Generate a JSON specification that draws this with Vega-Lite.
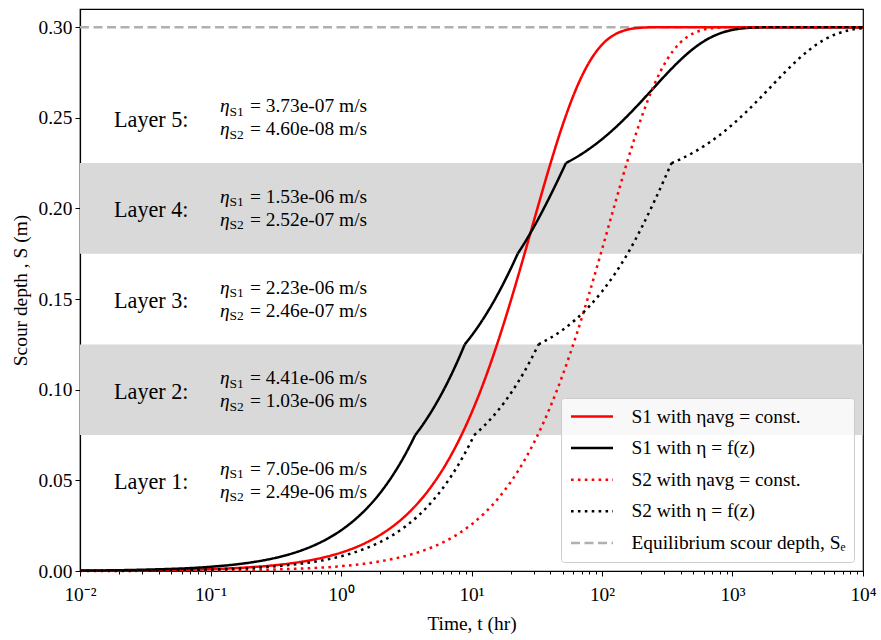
{
  "$schema": "https://vega.github.io/schema/vega-lite/v6.json",
  "width": 783,
  "height": 562,
  "autosize": {"type": "none"},
  "padding": {"left": 80, "top": 9, "right": 18, "bottom": 69},
  "config": {
    "font": "Liberation Serif",
    "view": {"stroke": "#000000", "strokeWidth": 1.2},
    "axis": {
      "labelFont": "Liberation Serif",
      "titleFont": "Liberation Serif",
      "labelFontSize": 19.4,
      "titleFontSize": 19.4,
      "titleFontWeight": "normal",
      "labelColor": "#000000",
      "titleColor": "#000000",
      "tickColor": "#000000",
      "domainColor": "#000000",
      "domainWidth": 1.2,
      "tickWidth": 1,
      "grid": false
    },
    "legend": {
      "orient": "bottom-right",
      "offset": 9,
      "fillColor": "rgba(255,255,255,0.8)",
      "strokeColor": "#cccccc",
      "cornerRadius": 3,
      "padding": 8.5,
      "symbolType": "stroke",
      "symbolSize": 1764,
      "symbolStrokeWidth": 2.5,
      "labelFont": "Liberation Serif",
      "labelFontSize": 19.4,
      "labelColor": "#000000",
      "labelOffset": 17,
      "labelLimit": 400,
      "clipHeight": 20,
      "rowPadding": 11.6
    }
  },
  "datasets": {
    "bands": [
      {"lo": 0.075, "hi": 0.125},
      {"lo": 0.175, "hi": 0.225}
    ],
    "ann": [
      {"layer": "Layer 5:", "Sc": 0.25, "e1": "= 3.73e-07 m/s", "e2": "= 4.60e-08 m/s"},
      {"layer": "Layer 4:", "Sc": 0.20, "e1": "= 1.53e-06 m/s", "e2": "= 2.52e-07 m/s"},
      {"layer": "Layer 3:", "Sc": 0.15, "e1": "= 2.23e-06 m/s", "e2": "= 2.46e-07 m/s"},
      {"layer": "Layer 2:", "Sc": 0.10, "e1": "= 4.41e-06 m/s", "e2": "= 1.03e-06 m/s"},
      {"layer": "Layer 1:", "Sc": 0.05, "e1": "= 7.05e-06 m/s", "e2": "= 2.49e-06 m/s"}
    ],
    "curves": [
      {"curve": "Se", "seg": 1, "t": 0.01, "S": 0.3},
      {"curve": "Se", "seg": 1, "t": 10000, "S": 0.3},

      {"curve": "S1c", "seg": 1, "t": 0.01, "S": 0.0001},
      {"curve": "S1c", "seg": 1, "t": 0.03162, "S": 0.00033},
      {"curve": "S1c", "seg": 1, "t": 0.1, "S": 0.00103},
      {"curve": "S1c", "seg": 1, "t": 0.1778, "S": 0.00183},
      {"curve": "S1c", "seg": 1, "t": 0.3162, "S": 0.00324},
      {"curve": "S1c", "seg": 1, "t": 0.3981, "S": 0.00407},
      {"curve": "S1c", "seg": 1, "t": 0.5012, "S": 0.00512},
      {"curve": "S1c", "seg": 1, "t": 0.631, "S": 0.00643},
      {"curve": "S1c", "seg": 1, "t": 0.7943, "S": 0.00807},
      {"curve": "S1c", "seg": 1, "t": 1, "S": 0.01013},
      {"curve": "S1c", "seg": 1, "t": 1.2589, "S": 0.01269},
      {"curve": "S1c", "seg": 1, "t": 1.5849, "S": 0.01589},
      {"curve": "S1c", "seg": 1, "t": 1.9953, "S": 0.01987},
      {"curve": "S1c", "seg": 1, "t": 2.5119, "S": 0.02479},
      {"curve": "S1c", "seg": 1, "t": 3.1623, "S": 0.03087},
      {"curve": "S1c", "seg": 1, "t": 3.9811, "S": 0.03833},
      {"curve": "S1c", "seg": 1, "t": 5.0119, "S": 0.04743},
      {"curve": "S1c", "seg": 1, "t": 6.3096, "S": 0.05845},
      {"curve": "S1c", "seg": 1, "t": 7.9433, "S": 0.07162},
      {"curve": "S1c", "seg": 1, "t": 10, "S": 0.08719},
      {"curve": "S1c", "seg": 1, "t": 12.589, "S": 0.10529},
      {"curve": "S1c", "seg": 1, "t": 15.849, "S": 0.12592},
      {"curve": "S1c", "seg": 1, "t": 19.953, "S": 0.1488},
      {"curve": "S1c", "seg": 1, "t": 25.119, "S": 0.17338},
      {"curve": "S1c", "seg": 1, "t": 31.623, "S": 0.19873},
      {"curve": "S1c", "seg": 1, "t": 39.811, "S": 0.22355},
      {"curve": "S1c", "seg": 1, "t": 50.119, "S": 0.24634},
      {"curve": "S1c", "seg": 1, "t": 63.096, "S": 0.26564},
      {"curve": "S1c", "seg": 1, "t": 79.433, "S": 0.28039},
      {"curve": "S1c", "seg": 1, "t": 100, "S": 0.29032},
      {"curve": "S1c", "seg": 1, "t": 125.89, "S": 0.29602},
      {"curve": "S1c", "seg": 1, "t": 158.49, "S": 0.2987},
      {"curve": "S1c", "seg": 1, "t": 199.53, "S": 0.29968},
      {"curve": "S1c", "seg": 1, "t": 251.19, "S": 0.29995},
      {"curve": "S1c", "seg": 1, "t": 316.23, "S": 0.3},
      {"curve": "S1c", "seg": 1, "t": 1000, "S": 0.3},
      {"curve": "S1c", "seg": 1, "t": 10000, "S": 0.3},

      {"curve": "S1f", "seg": 1, "t": 0.01, "S": 0.00023},
      {"curve": "S1f", "seg": 1, "t": 0.03162, "S": 0.00074},
      {"curve": "S1f", "seg": 1, "t": 0.1, "S": 0.00232},
      {"curve": "S1f", "seg": 1, "t": 0.1778, "S": 0.00411},
      {"curve": "S1f", "seg": 1, "t": 0.3162, "S": 0.00728},
      {"curve": "S1f", "seg": 1, "t": 0.3981, "S": 0.00913},
      {"curve": "S1f", "seg": 1, "t": 0.5012, "S": 0.01145},
      {"curve": "S1f", "seg": 1, "t": 0.631, "S": 0.01434},
      {"curve": "S1f", "seg": 1, "t": 0.7943, "S": 0.01794},
      {"curve": "S1f", "seg": 1, "t": 1, "S": 0.02241},
      {"curve": "S1f", "seg": 1, "t": 1.2589, "S": 0.02794},
      {"curve": "S1f", "seg": 1, "t": 1.5849, "S": 0.03473},
      {"curve": "S1f", "seg": 1, "t": 1.9953, "S": 0.04305},
      {"curve": "S1f", "seg": 1, "t": 2.5119, "S": 0.05316},
      {"curve": "S1f", "seg": 1, "t": 3.1623, "S": 0.06531},
      {"curve": "S1f", "seg": 1, "t": 3.706, "S": 0.075},
      {"curve": "S1f", "seg": 2, "t": 3.706, "S": 0.075},
      {"curve": "S1f", "seg": 2, "t": 3.9811, "S": 0.07798},
      {"curve": "S1f", "seg": 2, "t": 5.0119, "S": 0.08882},
      {"curve": "S1f", "seg": 2, "t": 6.3096, "S": 0.10171},
      {"curve": "S1f", "seg": 2, "t": 7.9433, "S": 0.11683},
      {"curve": "S1f", "seg": 2, "t": 8.883, "S": 0.125},
      {"curve": "S1f", "seg": 3, "t": 8.883, "S": 0.125},
      {"curve": "S1f", "seg": 3, "t": 10, "S": 0.12973},
      {"curve": "S1f", "seg": 3, "t": 12.589, "S": 0.14022},
      {"curve": "S1f", "seg": 3, "t": 15.849, "S": 0.15251},
      {"curve": "S1f", "seg": 3, "t": 19.953, "S": 0.16665},
      {"curve": "S1f", "seg": 3, "t": 22.588, "S": 0.175},
      {"curve": "S1f", "seg": 4, "t": 22.588, "S": 0.175},
      {"curve": "S1f", "seg": 4, "t": 25.119, "S": 0.18022},
      {"curve": "S1f", "seg": 4, "t": 31.623, "S": 0.19265},
      {"curve": "S1f", "seg": 4, "t": 39.811, "S": 0.20648},
      {"curve": "S1f", "seg": 4, "t": 50.119, "S": 0.22138},
      {"curve": "S1f", "seg": 4, "t": 52.916, "S": 0.225},
      {"curve": "S1f", "seg": 5, "t": 52.916, "S": 0.225},
      {"curve": "S1f", "seg": 5, "t": 63.096, "S": 0.22807},
      {"curve": "S1f", "seg": 5, "t": 79.433, "S": 0.23274},
      {"curve": "S1f", "seg": 5, "t": 100, "S": 0.23819},
      {"curve": "S1f", "seg": 5, "t": 125.89, "S": 0.24442},
      {"curve": "S1f", "seg": 5, "t": 158.49, "S": 0.25139},
      {"curve": "S1f", "seg": 5, "t": 199.53, "S": 0.25893},
      {"curve": "S1f", "seg": 5, "t": 251.19, "S": 0.26678},
      {"curve": "S1f", "seg": 5, "t": 316.23, "S": 0.27457},
      {"curve": "S1f", "seg": 5, "t": 398.11, "S": 0.28183},
      {"curve": "S1f", "seg": 5, "t": 501.19, "S": 0.2881},
      {"curve": "S1f", "seg": 5, "t": 630.96, "S": 0.29302},
      {"curve": "S1f", "seg": 5, "t": 794.33, "S": 0.29643},
      {"curve": "S1f", "seg": 5, "t": 1000, "S": 0.29847},
      {"curve": "S1f", "seg": 5, "t": 1584.9, "S": 0.29986},
      {"curve": "S1f", "seg": 5, "t": 2511.9, "S": 0.3},
      {"curve": "S1f", "seg": 5, "t": 10000, "S": 0.3},

      {"curve": "S2c", "seg": 1, "t": 0.01, "S": 0.00003},
      {"curve": "S2c", "seg": 1, "t": 0.03162, "S": 0.00008},
      {"curve": "S2c", "seg": 1, "t": 0.1, "S": 0.00027},
      {"curve": "S2c", "seg": 1, "t": 0.1778, "S": 0.00048},
      {"curve": "S2c", "seg": 1, "t": 0.3162, "S": 0.00085},
      {"curve": "S2c", "seg": 1, "t": 0.3981, "S": 0.00107},
      {"curve": "S2c", "seg": 1, "t": 0.5012, "S": 0.00134},
      {"curve": "S2c", "seg": 1, "t": 0.631, "S": 0.00169},
      {"curve": "S2c", "seg": 1, "t": 0.7943, "S": 0.00212},
      {"curve": "S2c", "seg": 1, "t": 1, "S": 0.00267},
      {"curve": "S2c", "seg": 1, "t": 1.2589, "S": 0.00336},
      {"curve": "S2c", "seg": 1, "t": 1.5849, "S": 0.00422},
      {"curve": "S2c", "seg": 1, "t": 1.9953, "S": 0.00531},
      {"curve": "S2c", "seg": 1, "t": 2.5119, "S": 0.00667},
      {"curve": "S2c", "seg": 1, "t": 3.1623, "S": 0.00837},
      {"curve": "S2c", "seg": 1, "t": 3.9811, "S": 0.0105},
      {"curve": "S2c", "seg": 1, "t": 5.0119, "S": 0.01315},
      {"curve": "S2c", "seg": 1, "t": 6.3096, "S": 0.01646},
      {"curve": "S2c", "seg": 1, "t": 7.9433, "S": 0.02058},
      {"curve": "S2c", "seg": 1, "t": 10, "S": 0.02567},
      {"curve": "S2c", "seg": 1, "t": 12.589, "S": 0.03195},
      {"curve": "S2c", "seg": 1, "t": 15.849, "S": 0.03965},
      {"curve": "S2c", "seg": 1, "t": 19.953, "S": 0.04904},
      {"curve": "S2c", "seg": 1, "t": 25.119, "S": 0.06037},
      {"curve": "S2c", "seg": 1, "t": 31.623, "S": 0.07391},
      {"curve": "S2c", "seg": 1, "t": 39.811, "S": 0.08988},
      {"curve": "S2c", "seg": 1, "t": 50.119, "S": 0.10839},
      {"curve": "S2c", "seg": 1, "t": 63.096, "S": 0.12939},
      {"curve": "S2c", "seg": 1, "t": 79.433, "S": 0.15258},
      {"curve": "S2c", "seg": 1, "t": 100, "S": 0.17735},
      {"curve": "S2c", "seg": 1, "t": 125.89, "S": 0.2027},
      {"curve": "S2c", "seg": 1, "t": 158.49, "S": 0.22731},
      {"curve": "S2c", "seg": 1, "t": 199.53, "S": 0.24964},
      {"curve": "S2c", "seg": 1, "t": 251.19, "S": 0.26827},
      {"curve": "S2c", "seg": 1, "t": 316.23, "S": 0.28227},
      {"curve": "S2c", "seg": 1, "t": 398.11, "S": 0.29147},
      {"curve": "S2c", "seg": 1, "t": 501.19, "S": 0.29661},
      {"curve": "S2c", "seg": 1, "t": 630.96, "S": 0.29894},
      {"curve": "S2c", "seg": 1, "t": 794.33, "S": 0.29975},
      {"curve": "S2c", "seg": 1, "t": 1000, "S": 0.29996},
      {"curve": "S2c", "seg": 1, "t": 10000, "S": 0.3},

      {"curve": "S2f", "seg": 1, "t": 0.01, "S": 0.00008},
      {"curve": "S2f", "seg": 1, "t": 0.03162, "S": 0.00026},
      {"curve": "S2f", "seg": 1, "t": 0.1, "S": 0.00082},
      {"curve": "S2f", "seg": 1, "t": 0.1778, "S": 0.00146},
      {"curve": "S2f", "seg": 1, "t": 0.3162, "S": 0.00259},
      {"curve": "S2f", "seg": 1, "t": 0.3981, "S": 0.00326},
      {"curve": "S2f", "seg": 1, "t": 0.5012, "S": 0.00409},
      {"curve": "S2f", "seg": 1, "t": 0.631, "S": 0.00514},
      {"curve": "S2f", "seg": 1, "t": 0.7943, "S": 0.00646},
      {"curve": "S2f", "seg": 1, "t": 1, "S": 0.00811},
      {"curve": "S2f", "seg": 1, "t": 1.2589, "S": 0.01018},
      {"curve": "S2f", "seg": 1, "t": 1.5849, "S": 0.01276},
      {"curve": "S2f", "seg": 1, "t": 1.9953, "S": 0.01597},
      {"curve": "S2f", "seg": 1, "t": 2.5119, "S": 0.01996},
      {"curve": "S2f", "seg": 1, "t": 3.1623, "S": 0.02491},
      {"curve": "S2f", "seg": 1, "t": 3.9811, "S": 0.03101},
      {"curve": "S2f", "seg": 1, "t": 5.0119, "S": 0.03851},
      {"curve": "S2f", "seg": 1, "t": 6.3096, "S": 0.04765},
      {"curve": "S2f", "seg": 1, "t": 7.9433, "S": 0.0587},
      {"curve": "S2f", "seg": 1, "t": 10, "S": 0.07193},
      {"curve": "S2f", "seg": 1, "t": 10.495, "S": 0.075},
      {"curve": "S2f", "seg": 2, "t": 10.495, "S": 0.075},
      {"curve": "S2f", "seg": 2, "t": 12.589, "S": 0.08028},
      {"curve": "S2f", "seg": 2, "t": 15.849, "S": 0.08825},
      {"curve": "S2f", "seg": 2, "t": 19.953, "S": 0.09788},
      {"curve": "S2f", "seg": 2, "t": 25.119, "S": 0.10938},
      {"curve": "S2f", "seg": 2, "t": 31.623, "S": 0.12293},
      {"curve": "S2f", "seg": 2, "t": 32.658, "S": 0.125},
      {"curve": "S2f", "seg": 3, "t": 32.658, "S": 0.125},
      {"curve": "S2f", "seg": 3, "t": 39.811, "S": 0.12836},
      {"curve": "S2f", "seg": 3, "t": 50.119, "S": 0.13308},
      {"curve": "S2f", "seg": 3, "t": 63.096, "S": 0.13885},
      {"curve": "S2f", "seg": 3, "t": 79.433, "S": 0.14582},
      {"curve": "S2f", "seg": 3, "t": 100, "S": 0.15417},
      {"curve": "S2f", "seg": 3, "t": 125.89, "S": 0.16405},
      {"curve": "S2f", "seg": 3, "t": 156.9, "S": 0.175},
      {"curve": "S2f", "seg": 3, "t": 199.53, "S": 0.18894},
      {"curve": "S2f", "seg": 3, "t": 251.19, "S": 0.20377},
      {"curve": "S2f", "seg": 3, "t": 316.23, "S": 0.21966},
      {"curve": "S2f", "seg": 3, "t": 341.03, "S": 0.225},
      {"curve": "S2f", "seg": 4, "t": 341.03, "S": 0.225},
      {"curve": "S2f", "seg": 4, "t": 398.11, "S": 0.22714},
      {"curve": "S2f", "seg": 4, "t": 501.19, "S": 0.23084},
      {"curve": "S2f", "seg": 4, "t": 630.96, "S": 0.23524},
      {"curve": "S2f", "seg": 4, "t": 794.33, "S": 0.24038},
      {"curve": "S2f", "seg": 4, "t": 1000, "S": 0.24628},
      {"curve": "S2f", "seg": 4, "t": 1258.9, "S": 0.25288},
      {"curve": "S2f", "seg": 4, "t": 1584.9, "S": 0.26005},
      {"curve": "S2f", "seg": 4, "t": 1995.3, "S": 0.26755},
      {"curve": "S2f", "seg": 4, "t": 2511.9, "S": 0.27502},
      {"curve": "S2f", "seg": 4, "t": 3162.3, "S": 0.28203},
      {"curve": "S2f", "seg": 4, "t": 3981.1, "S": 0.28813},
      {"curve": "S2f", "seg": 4, "t": 5011.9, "S": 0.29296},
      {"curve": "S2f", "seg": 4, "t": 6309.6, "S": 0.29635},
      {"curve": "S2f", "seg": 4, "t": 7943.3, "S": 0.2984},
      {"curve": "S2f", "seg": 4, "t": 10000, "S": 0.29944}
    ]
  },
  "layer": [
    {
      "data": {"name": "bands"},
      "mark": {"type": "rect", "color": "#d9d9d9"},
      "encoding": {
        "y": {
          "field": "lo", "type": "quantitative",
          "scale": {"domain": [0, 0.31], "nice": false},
          "axis": {"title": "Scour depth , S (m)", "values": [0, 0.05, 0.1, 0.15, 0.2, 0.25, 0.3], "format": ".2f", "tickSize": 5, "labelPadding": 3, "titlePadding": 8}
        },
        "y2": {"field": "hi"}
      }
    },
    {
      "data": {"name": "curves"},
      "mark": {"type": "line", "strokeWidth": 2.5, "strokeCap": "butt", "interpolate": "monotone"},
      "encoding": {
        "x": {
          "field": "t", "type": "quantitative",
          "scale": {"type": "log", "domain": [0.01, 10000], "nice": false},
          "axis": {
            "title": "Time, t (hr)",
            "values": [0.01,0.02,0.03,0.04,0.05,0.06,0.07,0.08,0.09,0.1,0.2,0.3,0.4,0.5,0.6,0.7,0.8,0.9,1,2,3,4,5,6,7,8,9,10,20,30,40,50,60,70,80,90,100,200,300,400,500,600,700,800,900,1000,2000,3000,4000,5000,6000,7000,8000,9000,10000],
            "labelExpr": "abs(log(datum.value)/LN10 - round(log(datum.value)/LN10)) < 0.01 ? '10' + ['⁻²','⁻¹','⁰','¹','²','³','⁴'][round(log(datum.value)/LN10) + 2] : ''",
            "tickSize": {"condition": {"test": "abs(log(datum.value)/LN10 - round(log(datum.value)/LN10)) < 0.01", "value": 5}, "value": 3},
            "labelOverlap": false,
            "labelFlush": false,
            "labelPadding": 9,
            "titlePadding": 11
          }
        },
        "y": {
          "field": "S", "type": "quantitative",
          "scale": {"domain": [0, 0.31], "nice": false},
          "axis": {"title": "Scour depth , S (m)", "values": [0, 0.05, 0.1, 0.15, 0.2, 0.25, 0.3], "format": ".2f", "tickSize": 5, "labelPadding": 3, "titlePadding": 8}
        },
        "detail": {"field": "seg", "type": "nominal"},
        "color": {
          "field": "curve", "type": "nominal",
          "scale": {"domain": ["S1c", "S1f", "S2c", "S2f", "Se"], "range": ["#ff0000", "#000000", "#ff0000", "#000000", "#b0b0b0"]},
          "legend": {
            "title": null,
            "labelExpr": "{'S1c': 'S1 with ηavg = const.', 'S1f': 'S1 with η = f(z)', 'S2c': 'S2 with ηavg = const.', 'S2f': 'S2 with η = f(z)', 'Se': 'Equilibrium scour depth, Sₑ'}[datum.label]"
          }
        },
        "strokeDash": {
          "field": "curve", "type": "nominal",
          "scale": {"domain": ["S1c", "S1f", "S2c", "S2f", "Se"], "range": [[1, 0], [1, 0], [2.6, 4.3], [2.6, 4.3], [9, 4.5]]},
          "legend": {
            "title": null,
            "labelExpr": "{'S1c': 'S1 with ηavg = const.', 'S1f': 'S1 with η = f(z)', 'S2c': 'S2 with ηavg = const.', 'S2f': 'S2 with η = f(z)', 'Se': 'Equilibrium scour depth, Sₑ'}[datum.label]"
          }
        }
      }
    },
    {
      "data": {"name": "ann"},
      "mark": {"type": "text", "align": "left", "baseline": "alphabetic", "fontSize": 22.2, "dy": 9, "color": "#000000"},
      "encoding": {
        "x": {"datum": 0.01822, "type": "quantitative"},
        "y": {"field": "Sc", "type": "quantitative", "axis": {"title": "Scour depth , S (m)", "values": [0, 0.05, 0.1, 0.15, 0.2, 0.25, 0.3], "format": ".2f", "tickSize": 5, "labelPadding": 3, "titlePadding": 8}},
        "text": {"field": "layer"}
      }
    },
    {
      "data": {"name": "ann"},
      "mark": {"type": "text", "align": "left", "baseline": "alphabetic", "fontSize": 19.4, "fontStyle": "italic", "dy": -5.5, "color": "#000000", "text": "η"},
      "encoding": {
        "x": {"datum": 0.1183, "type": "quantitative"},
        "y": {"field": "Sc", "type": "quantitative", "axis": {"title": "Scour depth , S (m)", "values": [0, 0.05, 0.1, 0.15, 0.2, 0.25, 0.3], "format": ".2f", "tickSize": 5, "labelPadding": 3, "titlePadding": 8}}
      }
    },
    {
      "data": {"name": "ann"},
      "mark": {"type": "text", "align": "left", "baseline": "alphabetic", "fontSize": 19.4, "fontStyle": "italic", "dy": 17.5, "color": "#000000", "text": "η"},
      "encoding": {
        "x": {"datum": 0.1183, "type": "quantitative"},
        "y": {"field": "Sc", "type": "quantitative", "axis": {"title": "Scour depth , S (m)", "values": [0, 0.05, 0.1, 0.15, 0.2, 0.25, 0.3], "format": ".2f", "tickSize": 5, "labelPadding": 3, "titlePadding": 8}}
      }
    },
    {
      "data": {"name": "ann"},
      "mark": {"type": "text", "align": "left", "baseline": "alphabetic", "fontSize": 13.5, "dx": 9.5, "dy": -2, "color": "#000000", "text": "S1"},
      "encoding": {
        "x": {"datum": 0.1183, "type": "quantitative"},
        "y": {"field": "Sc", "type": "quantitative", "axis": {"title": "Scour depth , S (m)", "values": [0, 0.05, 0.1, 0.15, 0.2, 0.25, 0.3], "format": ".2f", "tickSize": 5, "labelPadding": 3, "titlePadding": 8}}
      }
    },
    {
      "data": {"name": "ann"},
      "mark": {"type": "text", "align": "left", "baseline": "alphabetic", "fontSize": 13.5, "dx": 9.5, "dy": 21, "color": "#000000", "text": "S2"},
      "encoding": {
        "x": {"datum": 0.1183, "type": "quantitative"},
        "y": {"field": "Sc", "type": "quantitative", "axis": {"title": "Scour depth , S (m)", "values": [0, 0.05, 0.1, 0.15, 0.2, 0.25, 0.3], "format": ".2f", "tickSize": 5, "labelPadding": 3, "titlePadding": 8}}
      }
    },
    {
      "data": {"name": "ann"},
      "mark": {"type": "text", "align": "left", "baseline": "alphabetic", "fontSize": 19.4, "dx": 30, "dy": -5.5, "color": "#000000"},
      "encoding": {
        "x": {"datum": 0.1183, "type": "quantitative"},
        "y": {"field": "Sc", "type": "quantitative", "axis": {"title": "Scour depth , S (m)", "values": [0, 0.05, 0.1, 0.15, 0.2, 0.25, 0.3], "format": ".2f", "tickSize": 5, "labelPadding": 3, "titlePadding": 8}},
        "text": {"field": "e1"}
      }
    },
    {
      "data": {"name": "ann"},
      "mark": {"type": "text", "align": "left", "baseline": "alphabetic", "fontSize": 19.4, "dx": 30, "dy": 17.5, "color": "#000000"},
      "encoding": {
        "x": {"datum": 0.1183, "type": "quantitative"},
        "y": {"field": "Sc", "type": "quantitative", "axis": {"title": "Scour depth , S (m)", "values": [0, 0.05, 0.1, 0.15, 0.2, 0.25, 0.3], "format": ".2f", "tickSize": 5, "labelPadding": 3, "titlePadding": 8}},
        "text": {"field": "e2"}
      }
    }
  ]
}
